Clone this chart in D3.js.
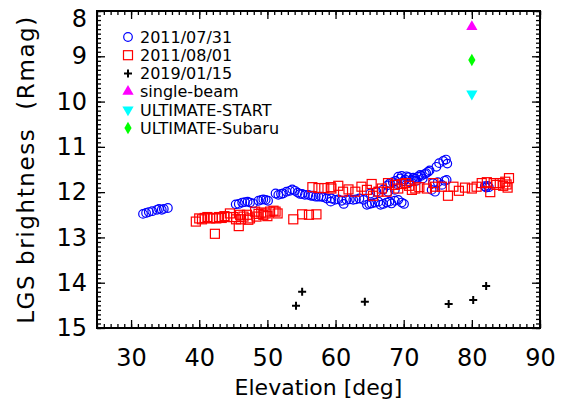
<!DOCTYPE html>
<html>
<head>
<meta charset="utf-8">
<script src="https://cdn.jsdelivr.net/npm/d3@7"></script>
<style>
  body { margin: 0; background: #fff; }
  text { font-family: "DejaVu Sans", sans-serif; fill: #000; }
</style>
</head>
<body>
<div class="scatter"></div>
<script>
// data: [elevation, magnitude]
var night0731 = [
  [31.75, 12.48], [32.2, 12.46], [32.6, 12.44], [33.1, 12.42], [33.8, 12.39], [34.1, 12.37],
  [34.5, 12.39], [34.8, 12.37], [35.4, 12.35],
  [45.35, 12.27], [45.8, 12.26], [46.3, 12.23], [46.7, 12.22], [47.1, 12.21], [47.45, 12.23],
  [47.9, 12.25], [48.7, 12.19], [49.1, 12.17], [49.4, 12.16], [49.75, 12.17], [50.1, 12.19],
  [51.2, 12.03], [51.6, 12.06], [52.0, 12.04], [52.3, 12.03], [52.8, 11.99], [53.3, 11.97],
  [53.65, 11.94], [54.05, 11.97], [54.45, 12.01], [54.8, 12.04], [55.1, 12.04], [55.5, 12.06],
  [56.0, 12.06], [56.4, 12.08], [56.7, 12.08], [57.1, 12.1], [57.5, 12.1], [57.9, 12.1],
  [58.2, 12.11], [58.7, 12.14], [59.3, 12.21],
  [59.4, 12.14], [59.9, 12.17], [60.4, 12.16], [60.9, 12.19], [61.2, 12.26], [61.6, 12.17],
  [62.1, 12.16], [62.6, 12.17], [63.0, 12.16], [63.5, 12.14], [64.1, 12.17], [64.6, 12.28],
  [64.95, 12.26], [65.3, 12.25], [65.8, 12.23], [66.3, 12.21], [66.6, 12.28], [67.0, 12.26],
  [67.5, 12.23], [67.9, 12.21], [68.2, 12.25], [68.7, 12.19], [69.2, 12.17], [69.7, 12.23],
  [70.05, 12.26],
  [65.1, 12.03], [66.0, 11.99], [67.0, 11.94], [67.7, 11.99], [68.7, 11.95],
  [67.6, 11.85], [68.0, 11.8], [68.4, 11.78], [68.8, 11.75], [69.0, 11.82], [69.5, 11.7],
  [70.0, 11.76], [70.4, 11.65], [70.9, 11.78], [71.4, 11.68], [71.9, 11.75], [72.4, 11.62],
  [72.8, 11.7], [73.3, 11.58], [73.8, 11.52], [74.3, 11.8],
  [69.2, 11.66], [69.7, 11.64], [70.2, 11.72], [70.7, 11.67], [71.2, 11.73], [71.7, 11.7],
  [72.1, 11.66], [72.6, 11.64], [73.1, 11.6], [73.6, 11.55], [74.1, 11.95], [74.6, 11.99],
  [74.8, 11.44], [75.2, 11.36], [75.8, 11.31], [76.2, 11.28], [76.4, 11.37], [76.3, 11.73],
  [75.0, 11.78], [75.6, 11.84], [76.0, 11.75],
  [81.9, 11.87], [82.1, 11.9], [82.3, 11.86], [82.5, 11.89]
];

var night0801 = [
  [39.5, 12.65], [40.0, 12.58], [40.4, 12.6], [40.8, 12.57], [41.2, 12.55], [41.6, 12.58],
  [42.0, 12.57], [42.3, 12.92], [42.5, 12.58], [42.9, 12.55], [43.3, 12.57], [43.7, 12.53],
  [44.1, 12.55], [44.5, 12.47], [45.0, 12.55], [45.4, 12.6], [45.8, 12.75], [46.0, 12.5],
  [46.1, 12.6], [46.5, 12.54], [47.0, 12.5], [47.2, 12.61], [47.45, 12.58], [48.2, 12.43],
  [48.4, 12.54], [48.7, 12.48], [49.1, 12.45], [49.4, 12.5], [49.75, 12.47], [50.0, 12.53],
  [50.4, 12.43], [50.9, 12.41], [51.2, 12.43], [51.5, 12.47],
  [53.8, 12.6], [55.1, 12.49], [56.1, 12.5], [57.2, 12.49],
  [56.6, 11.89], [57.5, 11.91], [58.35, 11.91], [59.3, 11.89],
  [59.4, 11.92], [60.4, 11.86], [61.1, 11.99], [61.9, 11.94], [62.9, 11.99], [63.8, 11.88],
  [64.6, 11.95], [65.3, 11.82], [65.5, 12.08], [66.3, 11.99], [66.8, 11.92], [67.5, 11.99],
  [67.7, 11.8], [68.7, 11.84], [69.2, 11.92], [69.7, 11.82], [70.3, 11.8], [70.8, 11.86],
  [71.2, 11.95], [71.7, 11.92], [72.3, 11.89], [73.4, 11.92], [74.35, 11.8], [74.6, 11.88],
  [75.6, 11.88], [76.5, 12.08], [77.3, 11.88], [78.1, 11.97], [79.0, 11.9], [80.0, 11.92],
  [80.7, 11.88], [81.45, 11.8], [82.2, 11.78], [82.7, 12.0], [83.2, 11.8], [83.6, 11.84],
  [84.1, 11.8], [84.6, 11.86], [84.9, 11.77], [85.1, 11.83], [85.25, 11.9], [85.45, 11.69]
];

var night0115 = [
  [54.2, 14.51], [55.1, 14.2], [64.3, 14.42], [76.6, 14.47], [80.2, 14.38], [82.1, 14.07]
];

var singleBeam = [[80, 8.35]];
var ultimateStart = [[80, 9.83]];
var ultimateSubaru = [[80, 9.08]];

var legendNames = ["2011/07/31", "2011/08/01", "2019/01/15", "single-beam", "ULTIMATE-START", "ULTIMATE-Subaru"];
var xTicks = [30, 40, 50, 60, 70, 80, 90];
var yTicks = [8, 9, 10, 11, 12, 13, 14, 15];

// setup chart dimensions
var svgWidth = 561;
var svgHeight = 404;
var margin = { top: 11, right: 21, bottom: 76, left: 97 };
var chartWidth = svgWidth - margin.left - margin.right;
var chartHeight = svgHeight - margin.top - margin.bottom;

var svg = d3.select(".scatter")
  .append("svg")
  .attr("width", svgWidth)
  .attr("height", svgHeight);

var chartGroup = svg.append("g")
  .attr("transform", `translate(${margin.left}, ${margin.top})`);

var xScale = d3.scaleLinear().domain([25, 90]).range([0, chartWidth]);
var yScale = d3.scaleLinear().domain([8, 15]).range([0, chartHeight]);

// axes: majors inward with labels, minors inward, mirrored on top/right
function tidy(g) {
  g.select(".domain").remove();
  g.selectAll("line").attr("stroke", "#000").attr("stroke-width", 1.3);
}

var xMinor = d3.range(25, 90.01, 1);
var yMinor = d3.range(8, 15.001, 0.1);

chartGroup.append("g")
  .attr("transform", `translate(0, ${chartHeight})`)
  .call(d3.axisBottom(xScale).tickValues(xTicks).tickSize(-8).tickPadding(21).tickFormat(d3.format("d")))
  .call(tidy)
  .selectAll("text").style("font-size", "24px").style("font-family", "DejaVu Sans");

chartGroup.append("g")
  .attr("transform", `translate(0, ${chartHeight})`)
  .call(d3.axisBottom(xScale).tickValues(xMinor).tickSize(-4).tickFormat(""))
  .call(tidy);

chartGroup.append("g")
  .call(d3.axisTop(xScale).tickValues(xTicks).tickSize(-8).tickFormat(""))
  .call(tidy);
chartGroup.append("g")
  .call(d3.axisTop(xScale).tickValues(xMinor).tickSize(-4).tickFormat(""))
  .call(tidy);

chartGroup.append("g")
  .call(d3.axisLeft(yScale).tickValues(yTicks).tickSize(-8).tickPadding(10).tickFormat(d3.format("d")))
  .call(tidy)
  .selectAll("text")
  .style("font-size", "24px")
  .style("font-family", "DejaVu Sans")
  .attr("dy", d => d === 8 ? "0.65em" : "0.32em"); // top label sits inside the window

chartGroup.append("g")
  .call(d3.axisLeft(yScale).tickValues(yMinor).tickSize(-4).tickFormat(""))
  .call(tidy);

chartGroup.append("g")
  .attr("transform", `translate(${chartWidth}, 0)`)
  .call(d3.axisRight(yScale).tickValues(yTicks).tickSize(-8).tickFormat(""))
  .call(tidy);
chartGroup.append("g")
  .attr("transform", `translate(${chartWidth}, 0)`)
  .call(d3.axisRight(yScale).tickValues(yMinor).tickSize(-4).tickFormat(""))
  .call(tidy);

// frame
chartGroup.append("rect")
  .attr("width", chartWidth)
  .attr("height", chartHeight)
  .attr("fill", "none")
  .attr("stroke", "#000")
  .attr("stroke-width", 2);

// axis titles
chartGroup.append("text")
  .attr("x", chartWidth / 2)
  .attr("y", chartHeight + 67)
  .attr("text-anchor", "middle")
  .style("font-size", "22px")
  .text("Elevation [deg]");

chartGroup.append("text")
  .attr("transform", "rotate(-90)")
  .attr("x", -chartHeight / 2)
  .attr("y", -63)
  .attr("text-anchor", "middle")
  .style("font-size", "23px")
  .style("letter-spacing", "1.6px")
  .style("white-space", "pre")
  .text("LGS brightness  (Rmag)");

// marker helpers
var tri = d3.symbol().type(d3.symbolTriangle).size(55);
var diamond = d3.symbol().type(d3.symbolDiamond).size(45);
var plusPath = "M-4,0H4M0,-4V4";

function drawMarker(g, kind) {
  if (kind === "circle") {
    g.append("circle").attr("r", 4.3).attr("fill", "none").attr("stroke", "#0000ff").attr("stroke-width", 1.2);
  } else if (kind === "square") {
    g.append("rect").attr("x", -4.5).attr("y", -4.5).attr("width", 9).attr("height", 9)
      .attr("fill", "none").attr("stroke", "#ff0000").attr("stroke-width", 1.2);
  } else if (kind === "plus") {
    g.append("path").attr("d", plusPath).attr("stroke", "#000").attr("stroke-width", 2);
  } else if (kind === "up") {
    g.append("path").attr("d", tri).attr("fill", "#ff00ff");
  } else if (kind === "down") {
    g.append("path").attr("d", tri).attr("transform", "rotate(180)").attr("fill", "#00ffff");
  } else {
    g.append("path").attr("d", diamond).attr("fill", "#00ff00");
  }
}

var seriesList = [
  { data: night0731, kind: "circle" },
  { data: night0801, kind: "square" },
  { data: night0115, kind: "plus" },
  { data: singleBeam, kind: "up" },
  { data: ultimateStart, kind: "down" },
  { data: ultimateSubaru, kind: "diamond" }
];

seriesList.forEach(function(s) {
  chartGroup.append("g")
    .selectAll("g")
    .data(s.data)
    .enter()
    .append("g")
    .attr("transform", d => `translate(${xScale(d[0])}, ${yScale(d[1])})`)
    .each(function() { drawMarker(d3.select(this), s.kind); });
});

// legend
var legendGroup = chartGroup.append("g")
  .attr("transform", "translate(31, 26)");

legendNames.forEach(function(name, i) {
  var row = legendGroup.append("g")
    .attr("transform", `translate(0, ${i * 18.2})`);
  drawMarker(row, seriesList[i].kind);
  row.append("text")
    .attr("x", 12)
    .attr("dy", "0.36em")
    .style("font-size", "16px")
    .text(name);
});
</script>
</body>
</html>
